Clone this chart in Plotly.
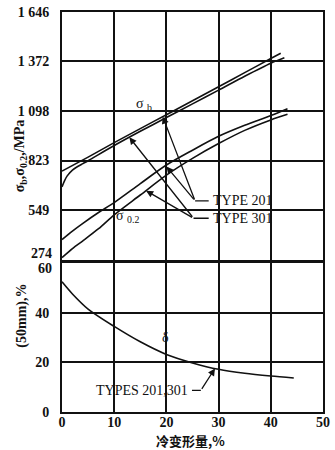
import numpy as np
import plotly.graph_objects as go

# ---------------- data ----------------
# tensile strength sigma_b (MPa) vs cold work (%)
x_sb_201 = [0, 5, 10, 15, 20, 25, 30, 35, 40, 41.9]
sb_201 = [764, 842, 922, 1000, 1077, 1154, 1232, 1310, 1388, 1417]
x_sb_301 = [0, 0.5, 1, 2, 3, 4, 5, 10, 15, 20, 25, 30, 35, 40, 42.6]
sb_301 = [677, 712, 738, 770, 790, 806, 822, 906, 985, 1061, 1137, 1213, 1290, 1362, 1392]

# yield strength sigma_0.2 (MPa)
x_s02 = [0, 2, 4, 7, 10, 15, 20, 25, 30, 35, 40, 43.2]
s02_201 = [385, 432, 475, 535, 590, 695, 798, 880, 957, 1018, 1072, 1110]
s02_301 = [285, 335, 378, 445, 522, 632, 742, 835, 917, 990, 1048, 1079]

# elongation delta (%)
x_delta = [0, 2, 5, 10, 15, 20, 25, 30, 35, 40, 44.4]
delta = [52.5, 47.6, 41.5, 34.5, 28.3, 23.2, 19.8, 17.2, 15.6, 14.5, 13.7]

x_ticks = [0, 10, 20, 30, 40, 50]
top_ticks = [274, 549, 823, 1098, 1372, 1646]
top_ticktext = ["", "549", "823", "1 098", "1 372", "1 646"]
bot_ticks = [0, 20, 40, 60]
bot_ticktext = ["0", "20", "40", ""]

FONT = "Liberation Serif"
BLACK = "#111111"

fig = go.Figure()
line = dict(color=BLACK, width=1.6, shape="spline", smoothing=0.8)
for xs, ys in [(x_sb_201, sb_201), (x_sb_301, sb_301),
               (x_s02, s02_201), (x_s02, s02_301)]:
    fig.add_trace(go.Scatter(x=xs, y=ys, mode="lines", line=line,
                             xaxis="x2", yaxis="y2", showlegend=False,
                             hoverinfo="skip"))
fig.add_trace(go.Scatter(x=x_delta, y=delta, mode="lines", line=line,
                         xaxis="x", yaxis="y", showlegend=False,
                         hoverinfo="skip"))

tickfont = dict(family=FONT, size=14, color=BLACK, weight="bold")
common = dict(showgrid=True, gridcolor=BLACK, gridwidth=1.6,
              showline=True, linecolor=BLACK, linewidth=2, mirror=True,
              zeroline=False, ticks="", tickfont=tickfont,
              ticklabeloverflow="allow")

fig.update_layout(
    width=335, height=450,
    margin=dict(l=62, r=8, t=5, b=38),
    paper_bgcolor="white", plot_bgcolor="white",
    xaxis=dict(domain=[0, 1], range=[0, 50], anchor="y",
               tickvals=x_ticks, ticklabelstandoff=-4, **common),
    yaxis=dict(domain=[0, 0.372], range=[0, 60], anchor="x",
               tickvals=bot_ticks, ticktext=bot_ticktext,
               ticklabelstandoff=8, **common),
    xaxis2=dict(domain=[0, 1], range=[0, 50], anchor="y2", matches="x",
                tickvals=x_ticks, showticklabels=False, **common),
    yaxis2=dict(domain=[0.381, 1], range=[274, 1646], anchor="x2",
                tickvals=top_ticks, ticktext=top_ticktext,
                ticklabelstandoff=8, **common),
)

ann = []
# end tick labels shifted apart
ann.append(dict(text=str(top_ticks[0]), xref="paper", x=0, xanchor="right",
                xshift=-8, yref="y2", y=top_ticks[0], yshift=6,
                showarrow=False, font=tickfont))
ann.append(dict(text=str(bot_ticks[-1]), xref="paper", x=0, xanchor="right",
                xshift=-8, yref="y", y=bot_ticks[-1], yshift=-5,
                showarrow=False, font=tickfont))

lab = dict(family=FONT, size=14, color=BLACK)
# curve labels
ann.append(dict(text="σ <sub>b</sub>", x=15.8, y=1135, xref="x2", yref="y2",
                showarrow=False, font=lab))
ann.append(dict(text="σ <sub>0.2</sub>", x=10.0, y=512, xref="x2", yref="y2",
                xanchor="left", showarrow=False, font=lab))
ann.append(dict(text="δ", x=19.9, y=30, xref="x", yref="y",
                showarrow=False, font=lab))

# TYPE labels with leader lines
ann.append(dict(text="TYPE 201", x=28.6, y=599, xref="x2", yref="y2",
                xanchor="left", showarrow=False, font=lab))
ann.append(dict(text="TYPE 301", x=28.6, y=503, xref="x2", yref="y2",
                xanchor="left", showarrow=False, font=lab))
ann.append(dict(text="TYPES 201,301", x=24.6, y=8.7, xref="x", yref="y",
                xanchor="right", showarrow=False, font=lab))

arrow = dict(showarrow=True, arrowhead=2, arrowsize=1.1, arrowwidth=1.3,
             arrowcolor=BLACK, text="")
j201 = (25.5, 599)
j301 = (25.2, 503)
tips = [
    (19.3, float(np.interp(19.3, x_sb_201, sb_201)), j201),
    (20.0, float(np.interp(20.0, x_s02, s02_201)) - 8, j201),
    (12.9, float(np.interp(12.9, x_sb_301, sb_301)), j301),
    (16.1, float(np.interp(16.1, x_s02, s02_301)), j301),
]
for tx, ty, (jx, jy) in tips:
    ann.append(dict(x=tx, y=ty, ax=jx, ay=jy, xref="x2", yref="y2",
                    axref="x2", ayref="y2", **arrow))
ann.append(dict(x=29.3, y=float(np.interp(29.3, x_delta, delta)),
                ax=26.6, ay=8.7, xref="x", yref="y", axref="x", ayref="y",
                **arrow))

shapes = [
    dict(type="line", xref="x2", yref="y2", x0=j201[0], y0=j201[1],
         x1=28.1, y1=j201[1], line=dict(color=BLACK, width=1.3)),
    dict(type="line", xref="x2", yref="y2", x0=j301[0], y0=j301[1],
         x1=28.1, y1=j301[1], line=dict(color=BLACK, width=1.3)),
    dict(type="line", xref="x", yref="y", x0=24.9, y0=8.7,
         x1=26.6, y1=8.7, line=dict(color=BLACK, width=1.3)),
]

# axis titles
ann.append(dict(text="σ<sub>b</sub>,σ<sub>0.2</sub>,/MPa", xref="paper",
                yref="paper", x=-0.2, y=0.64, textangle=-90,
                showarrow=False, font=dict(family=FONT, size=14, color=BLACK,
                                           weight="bold")))
ann.append(dict(text="(50mm),%", xref="paper", yref="paper", x=-0.193,
                y=0.155, textangle=-90, showarrow=False,
                font=dict(family=FONT, size=14, color=BLACK, weight="bold")))
ann.append(dict(text="冷变形量,%", xref="paper", yref="paper", x=0.494,
                y=-0.072, yanchor="middle", showarrow=False,
                font=dict(family="Noto Sans CJK SC", size=13, color=BLACK,
                          weight="bold")))

fig.update_layout(annotations=ann, shapes=shapes)
fig.write_html("out.html")
